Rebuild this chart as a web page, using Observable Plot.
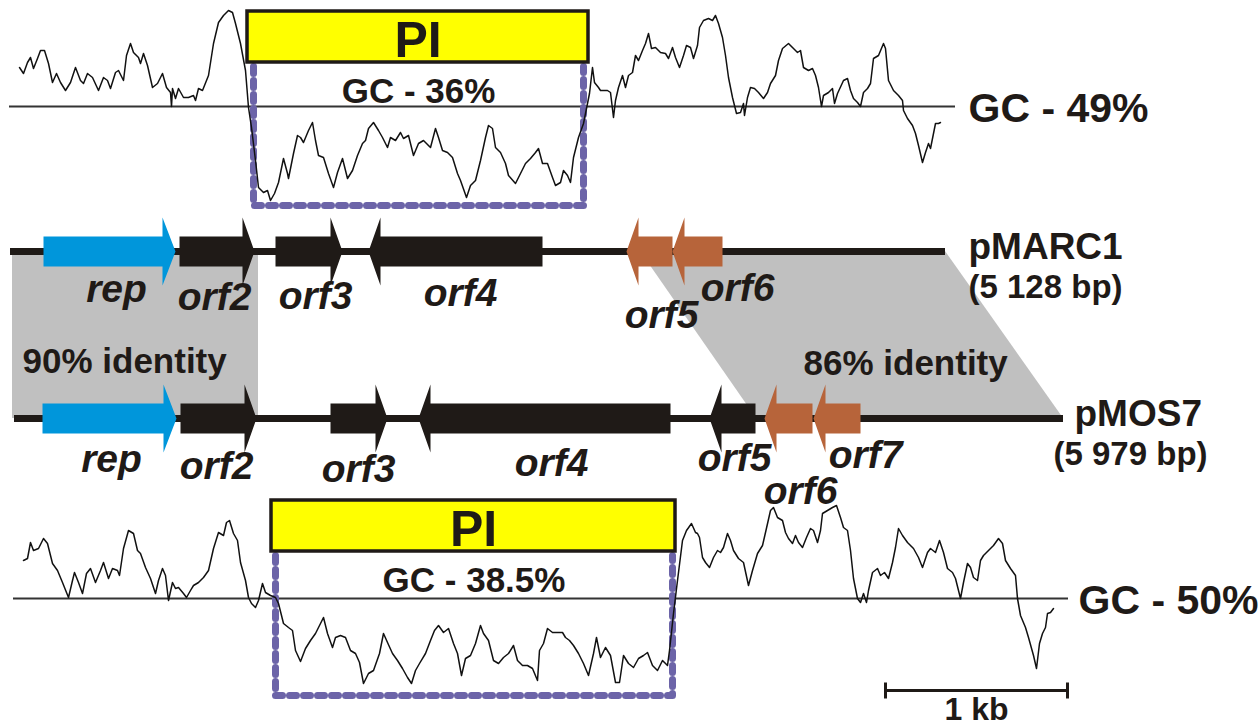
<!DOCTYPE html>
<html><head><meta charset="utf-8">
<script src="https://cdn.jsdelivr.net/npm/d3@7"></script>
<script src="https://cdn.jsdelivr.net/npm/@observablehq/plot@0.6"></script>
<style>html,body{margin:0;padding:0;background:#fff;overflow:hidden}</style>
</head><body><div id="chart"></div>
<script>
// ---------- DATA (diagram units) ----------
const plasmids = [
  {name: "pMARC1", size: "(5 128 bp)", y: 251, start: 10, end: 945},
  {name: "pMOS7",  size: "(5 979 bp)", y: 418, start: 14, end: 1063}
];
// genes: plasmid, label, start, end, strand, kind
const genes = [
  ["pMARC1", "rep", 43, 175, 1, "rep"],
  ["pMARC1", "orf2", 179, 254, 1, "core"],
  ["pMARC1", "orf3", 275, 342, 1, "core"],
  ["pMARC1", "orf4", 368, 542, -1, "core"],
  ["pMARC1", "orf5", 626, 672, -1, "var"],
  ["pMARC1", "orf6", 672, 722, -1, "var"],
  ["pMOS7", "rep", 42, 176, 1, "rep"],
  ["pMOS7", "orf2", 180, 256, 1, "core"],
  ["pMOS7", "orf3", 330, 387, 1, "core"],
  ["pMOS7", "orf4", 418, 670, -1, "core"],
  ["pMOS7", "orf5", 709, 755, -1, "core"],
  ["pMOS7", "orf6", 764, 812, -1, "var"],
  ["pMOS7", "orf7", 813, 860, -1, "var"]
];
// gene label anchor points
const geneLabels = [
  ["rep", 116, 301], ["orf2", 214, 309], ["orf3", 315, 308], ["orf4", 460, 305],
  ["orf5", 661, 327], ["orf6", 737, 300],
  ["rep", 111, 471], ["orf2", 216, 478], ["orf3", 358, 481], ["orf4", 551, 475],
  ["orf5", 734, 470], ["orf6", 800, 503], ["orf7", 865, 467]
];
// shared-identity blocks between the two maps: [label, topStart, topEnd, bottomStart, bottomEnd]
const identity = [
  ["90% identity", 12, 258, 12, 258],
  ["86% identity", 640, 945, 756, 1063]
];
const identityLabels = [["90% identity", 22, 372], ["86% identity", 803, 374]];
// pathogenicity island (PI) spans: [boxLeft, boxRight, boxTop, boxBottom, regionLeft, regionRight, regionBottom, gcLabel]
const islands = [
  [247, 588, 11, 62, 253, 583, 205, "GC - 36%"],
  [271, 675, 500, 551, 275, 672, 695, "GC - 38.5%"]
];
// GC baselines: [y, x1, x2, label, labelX]
const gcBase = [
  [106, 9, 955, "GC - 49%", 968],
  [598, 13, 1068, "GC - 50%", 1078]
];
// GC-content profiles (x, y)
const gcTop = [
[19,67],[23,73],[27,62],[30,57],[33,68],[37,58],[40,50],[44,50],[48,63],[52,82],[56,73],[60,82],[65,90],[70,82],[75,67],[80,80],[83,83],[87,73],[92,77],[98,90],[103,77],[107,80],[110,88],[115,72],[118,70],[123,80],[126,55],[130,43],[133,52],[138,57],[140,63],[143,53],[147,65],[152,87],[157,83],[162,73],[166,87],[170,92],[171,106],[172,88],[175,98],[178,88],[183,97],[188,97],[193,95],[195,100],[198,88],[202,90],[204,85],[208,75],[213,43],[218,22],[223,15],[228,10],[232,12],[235,23],[240,43],[245,70],[248,107],[251,127],[255,160],[258,187],[263,192],[267,190],[270,200],[274,193],[278,182],[283,158],[287,173],[288,178],[293,153],[297,135],[300,137],[303,142],[308,130],[312,122],[315,140],[318,155],[323,157],[328,173],[333,187],[337,172],[342,158],[347,178],[352,170],[357,155],[362,143],[365,140],[368,128],[373,122],[378,130],[382,137],[387,147],[390,137],[395,140],[400,132],[403,138],[408,135],[413,155],[418,143],[423,140],[430,147],[435,128],[438,137],[442,150],[447,152],[452,157],[457,173],[460,180],[466,197],[470,185],[475,180],[480,160],[485,137],[488,125],[492,128],[495,147],[500,152],[505,163],[508,175],[515,183],[520,173],[525,163],[530,158],[535,152],[538,148],[542,163],[547,163],[552,177],[555,185],[560,182],[563,170],[567,175],[570,182],[573,157],[578,137],[583,123],[587,103],[589,93],[592,67],[594,82],[598,87],[600,90],[607,90],[610,92],[613,117],[615,100],[618,87],[622,75],[625,87],[628,75],[632,72],[635,55],[638,60],[642,50],[645,43],[648,33],[651,48],[655,47],[660,52],[665,53],[668,58],[672,47],[675,57],[679,67],[683,55],[686,45],[690,47],[693,58],[697,45],[699,27],[703,20],[708,18],[712,20],[715,15],[718,23],[722,37],[725,55],[728,77],[732,97],[736,113],[740,112],[743,103],[744,115],[747,97],[750,87],[754,88],[758,92],[763,98],[767,92],[770,83],[775,75],[778,60],[782,48],[788,43],[793,48],[797,52],[800,50],[803,67],[808,70],[812,68],[815,75],[818,87],[821,106],[823,95],[828,92],[832,88],[834,103],[837,93],[843,80],[847,78],[850,90],[853,98],[857,102],[860,106],[863,92],[867,88],[870,83],[873,58],[878,55],[883,43],[885,48],[888,80],[893,90],[898,95],[902,100],[903,110],[907,118],[912,125],[915,133],[918,145],[922,162],[925,152],[928,143],[930,148],[933,133],[935,123],[938,123],[940,122]
];
const gcBottom = [
[23,560],[27,558],[30,542],[33,550],[38,548],[43,538],[47,543],[52,563],[57,570],[62,582],[68,597],[72,580],[74,572],[78,582],[82,593],[86,573],[90,568],[95,582],[100,570],[103,562],[108,578],[112,568],[117,570],[119,575],[123,548],[128,530],[133,533],[137,550],[140,553],[145,567],[150,578],[155,593],[158,580],[162,568],[165,575],[168,600],[172,582],[175,588],[178,587],[183,593],[186,597],[190,590],[193,585],[198,582],[203,577],[208,570],[213,548],[218,532],[223,535],[226,522],[229,520],[233,533],[237,540],[240,562],[245,580],[248,597],[251,603],[255,607],[258,600],[262,583],[265,592],[270,595],[275,597],[278,603],[283,623],[288,627],[292,630],[295,650],[300,661],[305,648],[310,640],[315,633],[318,627],[323,617],[327,633],[332,647],[335,637],[340,635],[345,637],[350,650],[355,653],[359,662],[363,683],[368,673],[373,670],[379,653],[383,633],[387,642],[392,653],[397,660],[402,668],[407,677],[411,683],[415,670],[419,663],[425,653],[430,640],[434,630],[438,625],[443,632],[448,628],[453,643],[457,653],[461,675],[465,658],[470,655],[475,643],[480,625],[483,633],[488,640],[493,660],[498,663],[503,657],[508,653],[513,645],[517,660],[522,665],[527,665],[532,668],[537,680],[539,650],[543,643],[547,628],[552,632],[557,632],[562,632],[565,637],[569,640],[573,645],[578,653],[583,663],[588,675],[593,653],[596,637],[600,657],[605,647],[610,655],[615,682],[619,682],[623,655],[628,663],[633,667],[638,658],[643,655],[647,652],[652,665],[657,670],[662,660],[667,665],[669,650],[673,613],[677,580],[682,540],[686,530],[691,523],[695,532],[697,533],[699,537],[702,557],[705,562],[709,567],[713,557],[717,550],[720,552],[723,547],[727,533],[730,540],[733,550],[738,558],[743,562],[748,585],[752,570],[757,553],[762,545],[765,532],[770,510],[773,507],[777,517],[782,520],[785,532],[788,538],[792,543],[795,535],[798,542],[802,547],[806,537],[810,528],[813,530],[817,542],[820,530],[822,513],[827,510],[832,507],[836,505],[840,517],[843,527],[847,530],[850,550],[853,578],[857,598],[860,602],[863,593],[866,602],[868,590],[872,572],[877,568],[880,575],[884,572],[888,578],[892,562],[895,547],[898,528],[902,535],[907,542],[910,545],[913,548],[918,557],[922,567],[927,552],[930,548],[935,552],[939,540],[943,552],[947,568],[952,572],[955,578],[960,598],[963,582],[967,563],[970,567],[973,577],[977,580],[980,560],[983,555],[988,550],[993,545],[998,538],[1002,543],[1005,560],[1010,568],[1015,575],[1017,598],[1020,615],[1025,627],[1028,637],[1033,655],[1036,668],[1039,643],[1042,633],[1045,627],[1047,613],[1050,612],[1053,608]
];
// scale bar: 1 kb
const scaleBar = [{x1: 885, x2: 1067, y: 690, label: "1 kb"}];

// ---------- STYLE ----------
const INK = "#1f1a17";
const colors = {rep: "#0096db", core: INK, var: "#b7643a"};
const FONT = "Liberation Sans, Arial, Helvetica, sans-serif";

// ---------- DERIVED GEOMETRY ----------
const yOf = Object.fromEntries(plasmids.map(p => [p.name, p.y]));
const polys = [];
genes.forEach(([pl, label, s, e, strand, kind], i) => {
  const yc = yOf[pl], bh = 15, hh = 34, hl = kind === "rep" ? 13 : 12;
  let pts;
  if (strand > 0) {
    const b = e - hl;
    pts = [[s, yc - bh], [b, yc - bh], [b, yc - hh], [e, yc], [b, yc + hh], [b, yc + bh], [s, yc + bh]];
  } else {
    const b = s + hl;
    pts = [[e, yc - bh], [b, yc - bh], [b, yc - hh], [s, yc], [b, yc + hh], [b, yc + bh], [e, yc + bh]];
  }
  pts.forEach(([x, y]) => polys.push({id: i, kind, x, y}));
});
const idArea = identity.flatMap(([label, t1, t2, b1, b2]) => [
  {id: label, y: plasmids[0].y, x1: t1, x2: t2},
  {id: label, y: plasmids[1].y, x1: b1, x2: b2}
]);
const dots = islands.flatMap(([bl, br, bt, bb, rl, rr, rb], i) => [
  {id: i, x: rl, y: bb + 4}, {id: i, x: rl, y: rb}, {id: i, x: rr, y: rb}, {id: i, x: rr, y: bb + 4}
]);
const piBoxes = islands.map(([bl, br, bt, bb]) => ({x1: bl, x2: br, y1: bt, y2: bb, cx: (bl + br) / 2, by: bb - 6}));
const gcLab = islands.map(([bl, br, bt, bb, rl, rr, rb, lab]) => ({x: (rl + rr) / 2, y: bb + 40, label: lab}));

const txt = (data, o) => Plot.text(data, {fontFamily: FONT, fontWeight: "bold", fill: INK, lineAnchor: "bottom", ...o});

const chart = Plot.plot({
  width: 1260, height: 726, margin: 0,
  x: {domain: [0, 1260], range: [0, 1260], axis: null},
  y: {domain: [0, 726], range: [0, 726], axis: null},
  style: {background: "#fff", overflow: "visible"},
  marks: [
    Plot.areaX(idArea, {y: "y", x1: "x1", x2: "x2", z: "id", fill: "#c0c0c0", curve: "linear"}),
    Plot.ruleY(plasmids, {y: "y", x1: "start", x2: "end", stroke: INK, strokeWidth: 7}),
    ...Object.keys(colors).map(k =>
      Plot.line(polys.filter(d => d.kind === k), {x: "x", y: "y", z: "id", fill: colors[k], stroke: "none", curve: "linear"})),
    Plot.ruleY(gcBase, {y: d => d[0], x1: d => d[1], x2: d => d[2], stroke: "#333", strokeWidth: 1.8}),
    Plot.line(dots, {x: "x", y: "y", z: "id", stroke: "#6c64a8", strokeWidth: 7, strokeDasharray: "7,7"}),
    Plot.rect(piBoxes, {x1: "x1", x2: "x2", y1: "y1", y2: "y2", fill: "#ffff00", stroke: INK, strokeWidth: 3.5}),
    Plot.line(gcTop, {x: d => d[0], y: d => d[1], stroke: "#111", strokeWidth: 1.5}),
    Plot.line(gcBottom, {x: d => d[0], y: d => d[1], stroke: "#111", strokeWidth: 1.5}),
    txt(piBoxes, {x: "cx", y: "by", text: () => "PI", fontSize: 50, textAnchor: "middle"}),
    txt(gcLab, {x: "x", y: "y", text: "label", fontSize: 35, textAnchor: "middle"}),
    txt(gcBase, {x: d => d[4], y: d => d[0] + 15, text: d => d[3], fontSize: 41, textAnchor: "start"}),
    txt(geneLabels, {x: d => d[1], y: d => d[2], text: d => d[0], fontSize: 39, fontStyle: "italic", textAnchor: "middle"}),
    txt(identityLabels, {x: d => d[1], y: d => d[2], text: d => d[0], fontSize: 35, textAnchor: "start"}),
    txt(plasmids, {x: d => d.name === "pMARC1" ? 968 : 1074, y: d => d.y + 7, text: "name", fontSize: 37, textAnchor: "start"}),
    txt(plasmids, {x: d => d.name === "pMARC1" ? 968 : 1053, y: d => d.y + 46, text: "size", fontSize: 33, textAnchor: "start"}),
    Plot.link(scaleBar, {x1: "x1", x2: "x2", y1: "y", y2: "y", stroke: INK, strokeWidth: 3}),
    Plot.link(scaleBar.flatMap(d => [d.x1, d.x2].map(x => ({x, y1: d.y - 8, y2: d.y + 8}))), {x1: "x", x2: "x", y1: "y1", y2: "y2", stroke: INK, strokeWidth: 3}),
    txt(scaleBar, {x: d => (d.x1 + d.x2) / 2, y: d => d.y + 29, text: "label", fontSize: 32, textAnchor: "middle"})
  ]
});
document.getElementById("chart").appendChild(chart);
</script>
</body></html>
